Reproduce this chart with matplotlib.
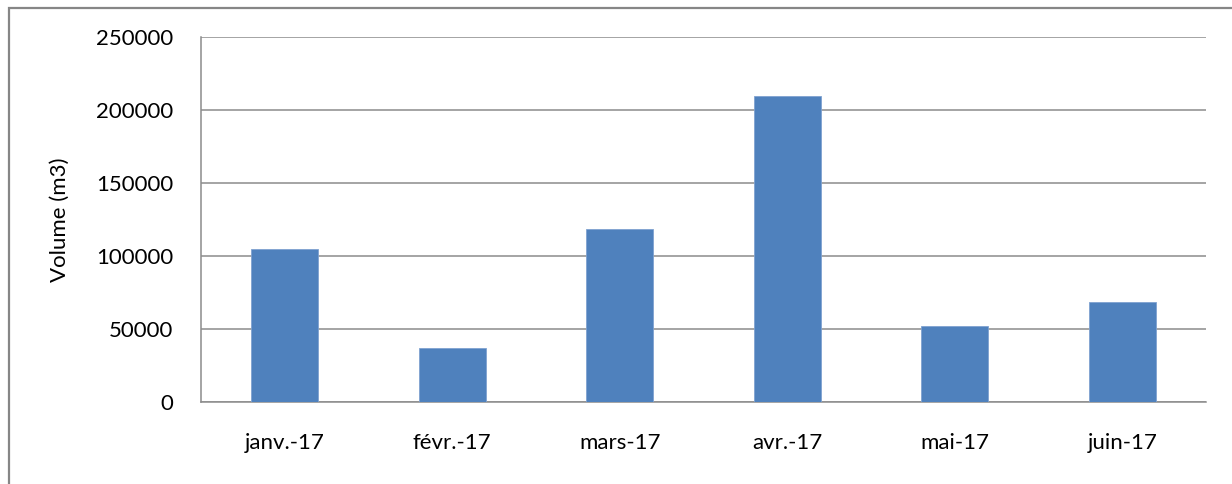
import matplotlib
matplotlib.use("Agg")
import matplotlib.pyplot as plt
from matplotlib.patches import Rectangle

months = ["janv.-17", "févr.-17", "mars-17", "avr.-17", "mai-17", "juin-17"]
volumes = [105000, 37000, 118300, 209800, 52000, 68600]
y_ticks = [0, 50000, 100000, 150000, 200000, 250000]

plt.rcParams['font.family'] = ['Lato', 'DejaVu Sans']

fig = plt.figure(figsize=(12.32, 4.84), dpi=100)
ax = fig.add_axes([201 / 1232, 1 - 402.3 / 484, 1005 / 1232, (402.3 - 37) / 484])

x = list(range(len(months)))
ax.bar(x, volumes, width=0.4, color="#4F81BD", edgecolor="#7FA2D0", linewidth=0.6, zorder=3)

ax.set_xlim(-0.5, len(months) - 0.5)
ax.set_ylim(0, 250000)
ax.set_yticks(y_ticks)
ax.set_yticklabels([str(v) for v in y_ticks])
ax.set_xticks(x)
ax.set_xticklabels(months)

ax.grid(axis="y", color="#8C8C8C", linewidth=1.1, zorder=0)
ax.set_axisbelow(True)
for s in ["top", "right"]:
    ax.spines[s].set_visible(False)
ax.spines["left"].set_color("#8C8C8C")
ax.spines["bottom"].set_color("#8C8C8C")
ax.spines["left"].set_linewidth(1.1)
ax.spines["bottom"].set_linewidth(1.1)

ax.tick_params(axis="both", length=0, labelsize=16, colors="black")
ax.tick_params(axis="y", pad=20)
ax.tick_params(axis="x", pad=22)

ax.set_ylabel("Volume (m3)", fontsize=16)
ax.yaxis.set_label_coords(-0.130, 0.5)

# Outer chart border
fig.patches.append(Rectangle((8.5 / 1232, -0.2), 2.0, 1.2 - 7.5 / 484,
                             transform=fig.transFigure, fill=False,
                             edgecolor="#868686", linewidth=1.6))

fig.savefig("out.png", dpi=100)
